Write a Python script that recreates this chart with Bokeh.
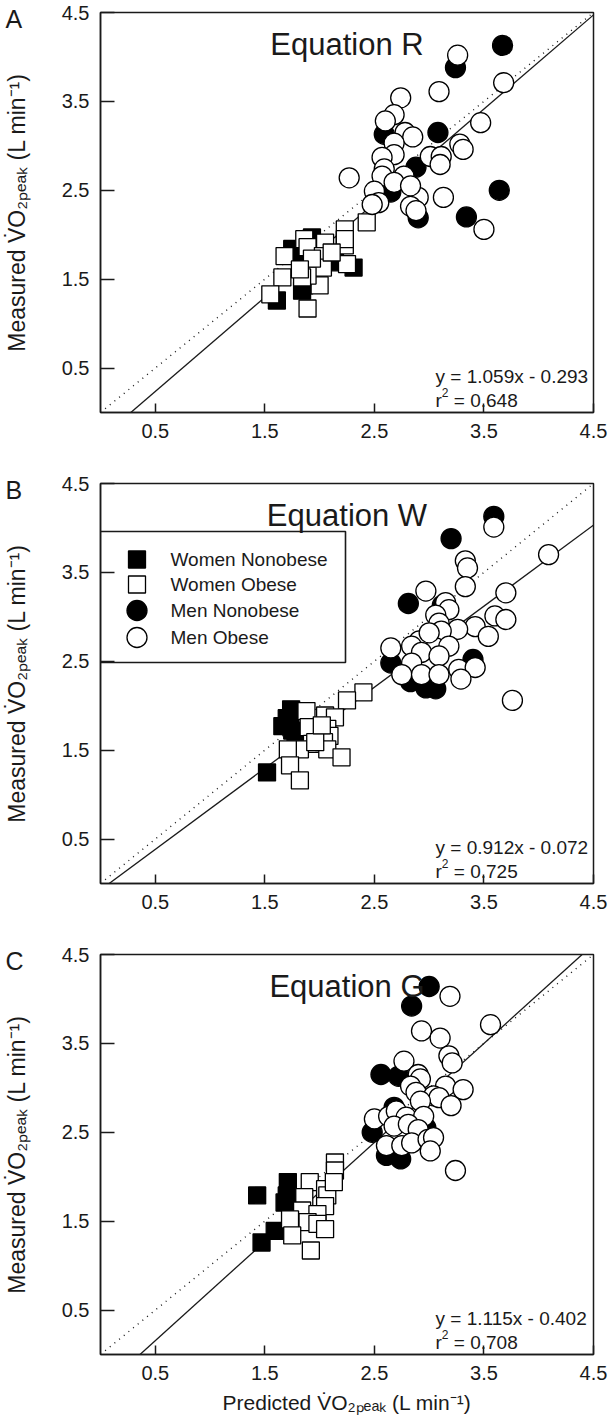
from bokeh.plotting import figure
from bokeh.models import Label, Slope, BoxAnnotation, FixedTicker, ColumnDataSource
from bokeh.layouts import column
from bokeh.embed import file_html
from bokeh.resources import INLINE

# ---------------- data ----------------
panel_letters = ["A", "B", "C"]
equation_names = ["Equation R", "Equation W", "Equation G"]
fit_slopes = [1.059, 0.912, 1.115]
fit_intercepts = [-0.293, -0.072, -0.402]
fit_r2 = [0.648, 0.725, 0.708]
tick_values = [0.5, 1.5, 2.5, 3.5, 4.5]
legend_labels = ["Women Nonobese", "Women Obese", "Men Nonobese", "Men Obese"]
y_title = "Measured V\u0307O\u2082\u209a\u2091\u2090\u2096 (L min\u207b\u00b9)"
x_title = "Predicted V\u0307O\u2082\u209a\u2091\u2090\u2096 (L min\u207b\u00b9)"

# Equation R (panel A): predicted / measured
R_wn_pred = [1.61, 1.84, 1.86, 1.75, 1.93, 1.84, 2.31, 2.14]
R_wn_meas = [1.26, 1.37, 1.43, 1.84, 1.97, 1.76, 1.63, 1.69]
R_wo_pred = [1.68, 1.66, 1.55, 1.86, 1.89, 2.05, 2.03, 2.03, 2.00, 1.89, 1.84, 1.89, 2.23, 2.43, 2.23, 2.25, 2.23, 2.11, 1.93, 1.82]
R_wo_meas = [1.76, 1.52, 1.33, 1.95, 1.86, 1.91, 1.76, 1.63, 1.43, 1.54, 1.52, 1.17, 2.06, 2.14, 1.88, 1.67, 1.95, 1.80, 1.73, 1.61]
R_mn_pred = [3.67, 3.24, 3.08, 2.59, 2.88, 3.64, 2.65, 3.34, 2.90]
R_mn_meas = [4.13, 3.88, 3.15, 3.13, 2.76, 2.50, 2.48, 2.20, 2.19]
R_mo_pred = [3.26, 3.68, 3.09, 2.74, 2.68, 2.60, 3.47, 2.78, 2.85, 3.28, 3.31, 2.68, 2.68, 2.57, 3.01, 3.11,
             3.10, 2.59, 2.57, 2.27, 2.77, 2.68, 2.50, 2.54, 2.48, 2.90, 2.83, 2.88, 3.13, 3.50, 2.83]
R_mo_meas = [4.02, 3.71, 3.61, 3.54, 3.35, 3.28, 3.26, 3.15, 3.10, 3.02, 2.96, 3.03, 2.90, 2.87, 2.88, 2.88,
             2.79, 2.74, 2.66, 2.64, 2.66, 2.59, 2.49, 2.36, 2.34, 2.42, 2.32, 2.27, 2.42, 2.06, 2.55]

# Equation W (panel B)
W_wn_pred = [1.52, 1.74, 1.66, 1.73, 1.75, 1.70, 1.78]
W_wn_meas = [1.25, 1.96, 1.77, 1.78, 1.72, 1.86, 1.65]
W_wo_pred = [2.40, 2.25, 1.88, 2.05, 2.14, 1.90, 2.07, 2.09, 1.93, 2.04, 1.82, 1.71, 2.07, 2.20, 1.73, 1.82, 1.96, 2.02]
W_wo_meas = [2.15, 2.06, 1.94, 1.89, 1.87, 1.76, 1.74, 1.66, 1.57, 1.59, 1.51, 1.51, 1.51, 1.42, 1.33, 1.16, 1.59, 1.78]
W_mn_pred = [3.59, 3.20, 2.81, 3.12, 2.99, 3.40, 2.65, 2.97, 3.06, 2.83]
W_mn_meas = [4.13, 3.88, 3.15, 3.13, 2.78, 2.52, 2.48, 2.20, 2.19, 2.27]
W_mo_pred = [3.59, 4.09, 3.33, 3.35, 3.33, 2.97, 3.70, 3.15, 3.18, 3.06, 3.09, 3.60, 3.70, 3.42, 3.26, 3.11, 3.54,
             2.91, 2.84, 2.65, 3.06, 3.18, 2.93, 3.09, 2.84, 2.75, 2.93, 3.09, 3.27, 3.42, 3.29, 3.76, 3.00]
W_mo_meas = [4.01, 3.70, 3.63, 3.55, 3.34, 3.29, 3.27, 3.16, 3.08, 3.02, 2.93, 3.01, 2.97, 2.89, 2.86, 2.84, 2.78,
             2.73, 2.67, 2.65, 2.65, 2.67, 2.60, 2.56, 2.48, 2.35, 2.35, 2.35, 2.41, 2.43, 2.30, 2.06, 2.82]

# Equation G (panel C)
G_wn_pred = [1.47, 1.59, 1.43, 1.71, 1.70, 1.71, 1.68]
G_wn_meas = [1.26, 1.39, 1.79, 1.94, 1.79, 1.75, 1.71]
G_wo_pred = [2.14, 2.14, 1.91, 2.05, 2.07, 1.86, 2.05, 1.84, 1.98, 1.73, 1.89, 1.98, 2.05, 1.75, 1.92, 2.13]
G_wo_meas = [2.16, 2.07, 1.94, 1.86, 1.79, 1.77, 1.67, 1.62, 1.58, 1.52, 1.49, 1.47, 1.41, 1.34, 1.17, 1.94]
G_mn_pred = [3.00, 2.84, 2.56, 2.72, 2.48, 2.61, 2.74, 2.68, 2.97]
G_mn_meas = [4.14, 3.92, 3.15, 3.13, 2.50, 2.24, 2.20, 2.78, 2.55]
G_mo_pred = [3.19, 3.56, 2.93, 3.10, 3.18, 3.21, 2.77, 2.90, 2.92, 2.83, 3.15, 3.31, 2.88, 3.04, 3.09, 3.20,
             2.92, 2.50, 2.63, 2.70, 2.79, 2.95, 2.68, 2.81, 2.90, 2.61, 2.75, 2.84, 2.99, 3.04, 3.01, 3.24]
G_mo_meas = [4.03, 3.71, 3.64, 3.56, 3.36, 3.28, 3.30, 3.15, 3.10, 3.02, 3.02, 2.98, 2.95, 2.91, 2.89, 2.80,
             2.85, 2.65, 2.68, 2.74, 2.67, 2.68, 2.57, 2.59, 2.53, 2.35, 2.35, 2.38, 2.42, 2.44, 2.29, 2.07]

panel_data = [
    [(R_wn_pred, R_wn_meas), (R_wo_pred, R_wo_meas), (R_mn_pred, R_mn_meas), (R_mo_pred, R_mo_meas)],
    [(W_wn_pred, W_wn_meas), (W_wo_pred, W_wo_meas), (W_mn_pred, W_mn_meas), (W_mo_pred, W_mo_meas)],
    [(G_wn_pred, G_wn_meas), (G_wo_pred, G_wo_meas), (G_mn_pred, G_mn_meas), (G_mo_pred, G_mo_meas)],
]

# ---------------- style / layout ----------------
FONT = "Liberation Sans"
INK = "#1a1a1a"
FRAME_W, FRAME_H = 493, 400
X0, X1, Y0, Y1 = 0.0, 4.5, 0.0, 4.5
group_markers = ["square", "square", "circle", "circle"]
group_fills = ["black", "white", "black", "white"]
group_sizes = [17, 17, 20, 20]
borders = [(12, 40), (31, 40), (31, 56)]


def sx(px):
    return X0 + px * (X1 - X0) / FRAME_W


def sy(px):
    return Y0 + px * (Y1 - Y0) / FRAME_H


WIDTHS = {' ': 278, '(': 333, ')': 333, '-': 333, '.': 278, '=': 584, 'r': 333}


def tw(s, size):
    return sum(WIDTHS.get(c, 556) for c in s) * size / 1000.0


def lab(p, x, y, text, size, align="left", baseline="alphabetic"):
    p.add_layout(Label(x=x, y=y, text=text, text_font=FONT, text_font_size=f"{size}px",
                       text_color=INK, text_align=align, text_baseline=baseline))


figs = []
for i in range(3):
    top_b, bot_b = borders[i]
    p = figure(frame_width=FRAME_W, frame_height=FRAME_H, x_range=(X0, X1), y_range=(Y0, Y1),
               output_backend="svg", toolbar_location=None,
               min_border_left=99, min_border_right=16, min_border_top=top_b, min_border_bottom=bot_b)
    p.grid.visible = False
    p.outline_line_color = INK
    p.outline_line_width = 1.5
    p.outline_line_alpha = 1.0

    # panel letter as the plot title, pulled to the top-left corner
    p.title.text = panel_letters[i]
    p.title.align = "left"
    p.title.offset = -95
    p.title.standoff = -40
    p.title.text_font = FONT
    p.title.text_font_size = "25px"
    p.title.text_font_style = "normal"
    p.title.text_color = INK

    for ax, tin in ((p.xaxis[0], 9), (p.yaxis[0], 14)):
        ax.ticker = FixedTicker(ticks=tick_values, minor_ticks=[])
        ax.major_tick_in = tin
        ax.major_tick_out = 0
        ax.minor_tick_in = 0
        ax.minor_tick_out = 0
        ax.axis_line_color = INK
        ax.axis_line_width = 1.5
        ax.major_tick_line_color = INK
        ax.major_tick_line_width = 1.5
        ax.major_label_text_font = FONT
        ax.major_label_text_font_size = "20px"
        ax.major_label_text_color = INK
        ax.major_label_standoff = 11
        ax.axis_label_text_font = FONT
        ax.axis_label_text_font_style = "normal"
        ax.axis_label_text_color = INK

    p.yaxis[0].axis_label = y_title
    p.yaxis[0].axis_label_text_font_size = "23px"
    p.yaxis[0].axis_label_standoff = 29
    if i == 2:
        p.xaxis[0].axis_label = x_title
        p.xaxis[0].axis_label_text_font_size = "21px"
        p.xaxis[0].axis_label_standoff = 8

    # identity line and regression line
    p.add_layout(Slope(gradient=1.0, y_intercept=0.0, line_color=INK, line_width=1.4,
                       line_dash="1 5", level="underlay"))
    p.add_layout(Slope(gradient=fit_slopes[i], y_intercept=fit_intercepts[i], line_color=INK,
                       line_width=1.3, level="underlay"))

    # legend (panel B only)
    if i == 1:
        p.add_layout(BoxAnnotation(left=sx(0), right=sx(245), bottom=sy(221), top=sy(352),
                                   fill_color="white", fill_alpha=1.0, line_color=INK, line_alpha=1.0,
                                   line_width=1.6, level="underlay"))
        rows = [324, 299, 273, 246]
        for g in range(4):
            src = ColumnDataSource(dict(x=[sx(36.5)], y=[sy(rows[g])]))
            p.scatter("x", "y", source=src, marker=group_markers[g], size=group_sizes[g],
                      fill_color=group_fills[g], line_color="black", line_width=1.3)
            lab(p, sx(70), sy(rows[g]), legend_labels[g], 19, baseline="middle")

    # data points
    for g in range(4):
        xs, ys = panel_data[i][g]
        src = ColumnDataSource(dict(x=xs, y=ys))
        p.scatter("x", "y", source=src, marker=group_markers[g], size=group_sizes[g],
                  fill_color=group_fills[g], line_color="black", line_width=1.3)

    # texts inside the frame
    lab(p, (X0 + X1) / 2, Y1 - sy(32), equation_names[i], 31, align="center")
    ex = sx(335)
    b = fit_intercepts[i]
    sign = "-" if b < 0 else "+"
    lab(p, ex, sy(36), f"y = {fit_slopes[i]:.3f}x {sign} {abs(b):.3f}", 19)
    lab(p, ex, sy(12), "r", 19)
    lab(p, ex + sx(tw("r", 19)), sy(20), "2", 12)
    lab(p, ex + sx(tw("r", 19) + tw("2", 12) + tw(" ", 19)), sy(12), f"= {fit_r2[i]:.3f}", 19)

    figs.append(p)

layout = column(*figs)
open("out.html", "w").write(file_html(layout, INLINE))
